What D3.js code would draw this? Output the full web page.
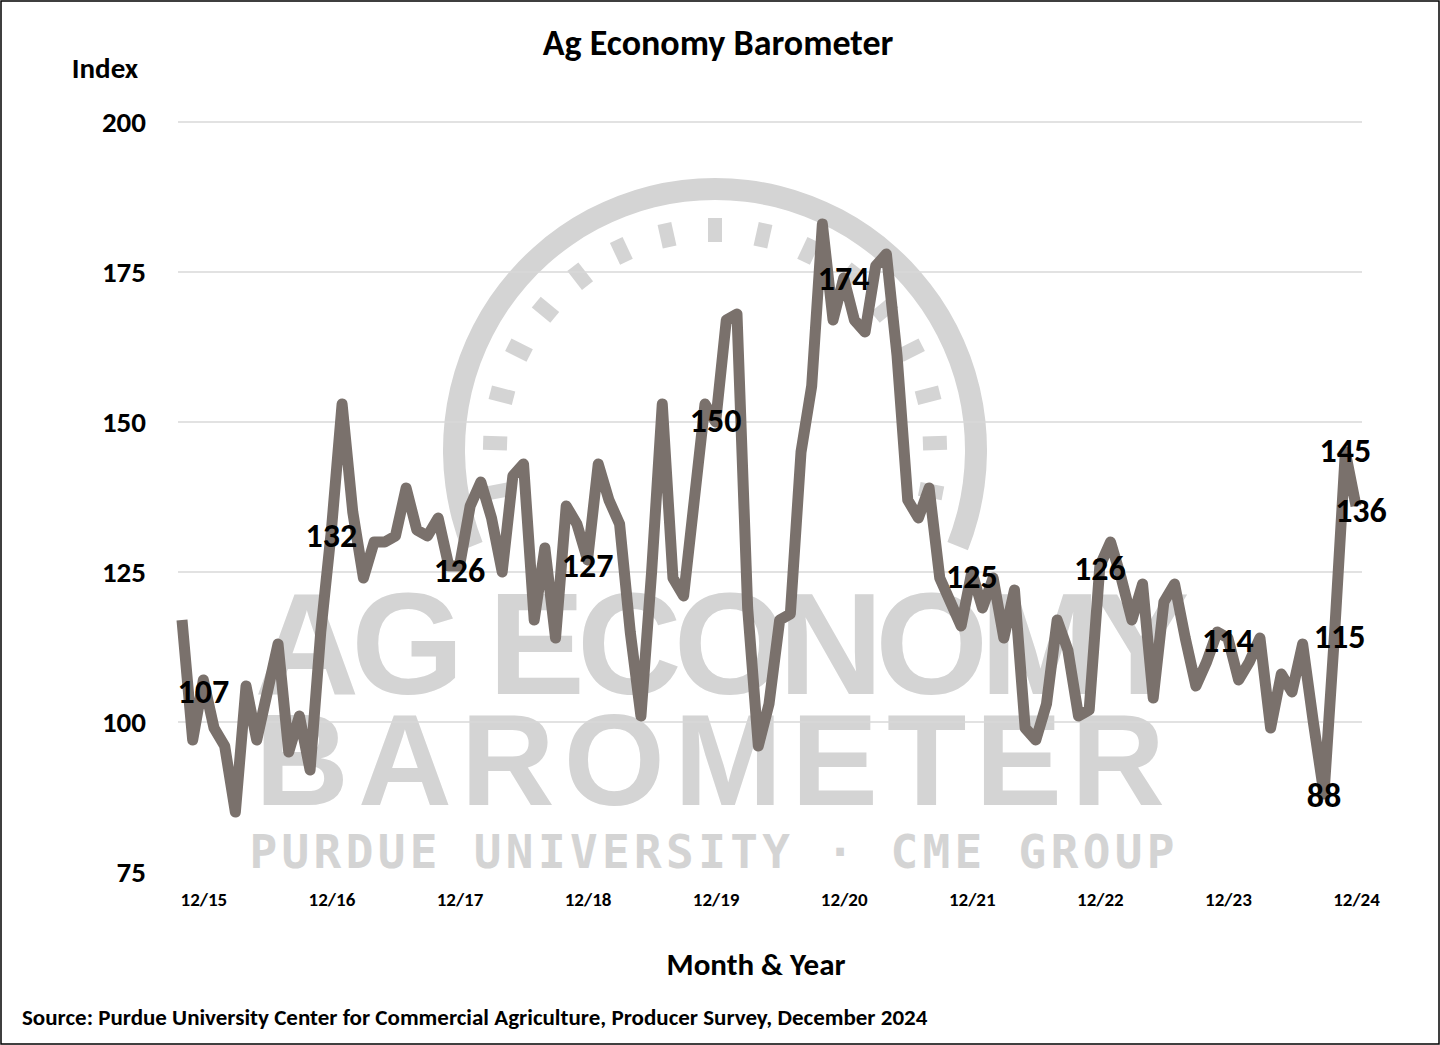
<!DOCTYPE html>
<html><head><meta charset="utf-8">
<script src="https://cdn.jsdelivr.net/npm/d3@7"></script>
<style>body{margin:0;background:#fff;font-family:Calibri,Carlito,"Open Sans",sans-serif}</style>
</head><body><div id="chart"></div>
<script>
// monthly index, Oct 2015 .. Dec 2024
var values = [117,97,107,99,96,85,106,97,105,113,95,101,92,115,132,153,135,124,130,130,
  131,139,132,131,134,126,126,136,140,134,125,141,143,117,129,114,136,133,127,143,
  137,133,115,101,125,153,124,121,137,153,150,167,168,119,96,103,117,118,145,156,
  183,167,174,167,165,176,178,161,137,134,139,124,120,116,125,119,124,114,122,99,
  97,103,117,112,101,102,126,
  130,124,117,123,104,120,123,114,106,110,115,114,
  107,110,114,99,108,105,113,100,88,115,145,136];
var yTicks = [75,100,125,150,175,200];
var xTickIdx = [2,14,26,38,50,62,74,86,98,110];
var xTickLabels = ["12/15","12/16","12/17","12/18","12/19","12/20","12/21","12/22","12/23","12/24"];
var labelIdx = [2,14,26,38,50,62,74,86,98,107,108,109,110];
var labelText = ["107","132","126","127","150","174","125","126","114","88","115","145","136"];
var labelDx = [0,0,0,0,0,0,0,0,0,0,5,0,5];
var labelDy = [23,17,16,17,10,12,16,14,14,13,16,10,16];

function init(){
  var W = 1440, H = 1045;
  var svg = d3.select("#chart").append("svg").attr("width", W).attr("height", H);
  svg.append("rect").attr("x",1).attr("y",1).attr("width",W-2).attr("height",H-2)
    .attr("fill","#fff").attr("stroke","#000").attr("stroke-width",1.5);

  var x = d3.scaleLinear().domain([0, 110]).range([182, 1356]);
  var y = d3.scaleLinear().domain([75, 200]).range([872, 122]);

  // watermark
  var wm = svg.append("g").attr("fill","#d4d4d4");
  var arc = d3.arc().innerRadius(250).outerRadius(272).startAngle(-Math.PI*0.62).endAngle(Math.PI*0.62);
  wm.append("path").attr("d", arc()).attr("transform","translate(715,450)");
  d3.range(-8, 9).forEach(function(i){
    var a = i*Math.PI*0.07;
    wm.append("rect").attr("x",-7).attr("y",-232).attr("width",14).attr("height",24)
      .attr("transform","translate(715,450) rotate("+(a*180/Math.PI)+")");
  });
  wm.append("text").attr("x",722).attr("y",694).attr("text-anchor","middle")
    .attr("font-size",145).attr("font-weight","bold").attr("textLength",935)
    .attr("font-family","Liberation Sans").text("AG ECONOMY");
  wm.append("text").attr("x",710).attr("y",805).attr("text-anchor","middle")
    .attr("font-size",130).attr("font-weight","bold").attr("textLength",910)
    .attr("font-family","Liberation Sans").text("BAROMETER");
  wm.append("text").attr("x",712).attr("y",868).attr("text-anchor","middle")
    .attr("font-size",46).attr("font-weight","bold").attr("textLength",925)
    .attr("font-family","DejaVu Sans Mono").text("PURDUE UNIVERSITY · CME GROUP");

  svg.append("g").selectAll("line").data(yTicks.slice(1)).join("line")
    .attr("x1",178).attr("x2",1362).attr("y1",d=>y(d)).attr("y2",d=>y(d))
    .attr("stroke","#d9d9d9").attr("stroke-width",1.5);

  var yAxis = svg.append("g").attr("transform","translate(148,0)")
    .call(d3.axisLeft(y).tickValues(yTicks).tickSize(0).tickPadding(2));
  yAxis.select(".domain").remove();
  yAxis.selectAll("text").attr("font-size",29).attr("font-weight","bold").attr("fill","#000")
    .attr("font-family","Carlito,Calibri,sans-serif");

  var xAxis = svg.append("g").attr("transform","translate(0,888)")
    .call(d3.axisBottom(x).tickValues(xTickIdx).tickFormat((d,i)=>xTickLabels[i]).tickSize(0).tickPadding(4));
  xAxis.select(".domain").remove();
  xAxis.selectAll("text").attr("font-size",19).attr("font-weight","bold").attr("fill","#000")
    .attr("font-family","Carlito,Calibri,sans-serif");

  svg.append("path").datum(values)
    .attr("d", d3.line().x((d,i)=>x(i)).y(d=>y(d)))
    .attr("fill","none").attr("stroke","#7a716c").attr("stroke-width",11)
    .attr("stroke-linejoin","round");

  svg.append("g").selectAll("text").data(labelIdx).join("text")
    .attr("x",(d,i)=>x(d)+labelDx[i]).attr("y",(d,i)=>y(values[d])+labelDy[i])
    .attr("text-anchor","middle").attr("font-size",34).attr("font-weight","bold")
    .attr("font-family","Carlito,Calibri,sans-serif").text((d,i)=>labelText[i]);

  var t = svg.append("g").attr("font-weight","bold").attr("font-family","Carlito,Calibri,sans-serif");
  t.append("text").attr("x",718).attr("y",55).attr("text-anchor","middle").attr("font-size",36).text("Ag Economy Barometer");
  t.append("text").attr("x",105).attr("y",78).attr("text-anchor","middle").attr("font-size",29).text("Index");
  t.append("text").attr("x",756).attr("y",975).attr("text-anchor","middle").attr("font-size",31).text("Month & Year");
  t.append("text").attr("x",22).attr("y",1025).attr("font-size",23).text("Source: Purdue University Center for Commercial Agriculture, Producer Survey, December 2024");
}
init();
</script></body></html>
